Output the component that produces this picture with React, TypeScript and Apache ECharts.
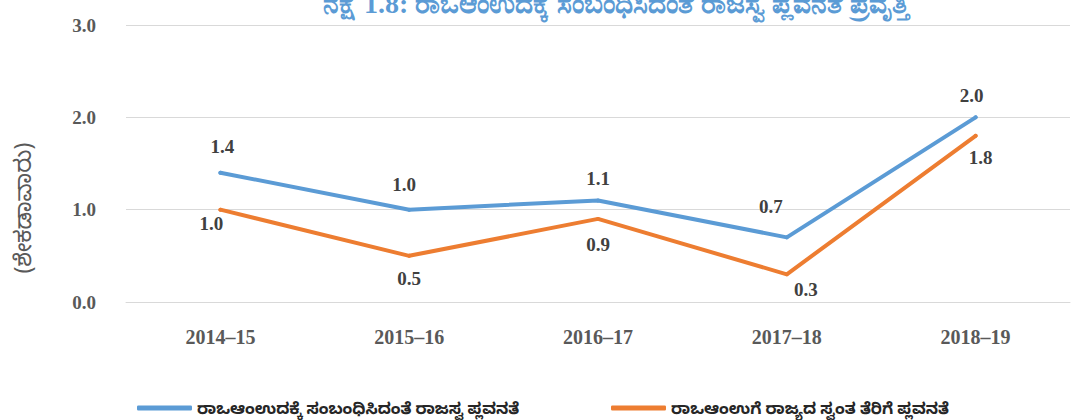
import React, { useEffect, useRef } from "react";
import * as echarts from "echarts";

const categories = ["2014–15", "2015–16", "2016–17", "2017–18", "2018–19"];
const revenueBuoyancy = [1.4, 1.0, 1.1, 0.7, 2.0];
const ownTaxBuoyancy = [1.0, 0.5, 0.9, 0.3, 1.8];
const seriesNames = [
  "ರಾಒಆಂಉದಕ್ಕೆ ಸಂಬಂಧಿಸಿದಂತೆ ರಾಜಸ್ವ ಪ್ಲವನತೆ",
  "ರಾಒಆಂಉಗೆ ರಾಜ್ಯದ ಸ್ವಂತ ತೆರಿಗೆ ಪ್ಲವನತೆ",
];
const titleText = "ನಕ್ಷೆ 1.8: ರಾಒಆಂಉದಕ್ಕೆ ಸಂಬಂಧಿಸಿದಂತೆ ರಾಜಸ್ವ ಪ್ಲವನತೆ ಪ್ರವೃತ್ತಿ";
const yAxisName = "(ಶೇಕಡಾವಾರು)";

// label nudges (dx, dy) in pixels, mimicking the reference's placement
const revenueLabelOffsets = [[2, -5], [-5, -4], [0, 0], [-16, -9], [-4, 0]];
const ownTaxLabelOffsets = [[-9, -8], [0, 1], [0, 4], [19, -6], [5, 0]];

const SERIF = "'Times New Roman', 'Liberation Serif', 'DejaVu Serif', serif";
const SANS = "'Noto Sans', 'Noto Sans Kannada', sans-serif";

export default function App() {
  const ref = useRef<HTMLDivElement>(null);
  useEffect(() => {
    if (!ref.current) return;
    const chart = echarts.init(ref.current, null, { renderer: "svg" });
    const labelStyle = {
      show: true,
      fontFamily: SERIF,
      fontWeight: "bold" as const,
      fontSize: 19,
      color: "#404040",
      distance: 10,
      formatter: (p: any) => Number(p.value).toFixed(1),
    };
    const withOffsets = (vals: number[], offs: number[][]) =>
      vals.map((v, i) => ({ value: v, label: { offset: offs[i] } }));
    chart.setOption({
      animation: false,
      backgroundColor: "#ffffff",
      title: {
        text: titleText,
        left: 318,
        top: -16,
        textStyle: {
          color: "#5B9BD5",
          fontSize: 28,
          fontWeight: "bold",
          fontFamily: SERIF,
        },
      },
      legend: [
        {
          data: [seriesNames[0]],
          left: 132,
          top: 395,
          icon: "roundRect",
          itemWidth: 55,
          itemHeight: 5,
          textStyle: { fontSize: 16, fontWeight: "bold", color: "#262626", fontFamily: SANS },
        },
        {
          data: [seriesNames[1]],
          left: 606,
          top: 395,
          icon: "roundRect",
          itemWidth: 55,
          itemHeight: 5,
          textStyle: { fontSize: 16, fontWeight: "bold", color: "#262626", fontFamily: SANS },
        },
      ],
      graphic: [
        {
          type: "text",
          x: 22,
          y: 208,
          rotation: Math.PI / 2,
          style: {
            text: yAxisName,
            fontSize: 23,
            fill: "#595959",
            fontFamily: SANS,
            align: "center",
            verticalAlign: "middle",
          },
        },
      ],
      grid: { left: 126, right: 8, top: 25, bottom: 118 },
      xAxis: {
        type: "category",
        data: categories,
        boundaryGap: true,
        axisLine: { lineStyle: { color: "#D9D9D9", width: 1 } },
        axisTick: { show: false },
        axisLabel: {
          margin: 25,
          fontFamily: SERIF,
          fontWeight: "bold",
          fontSize: 20,
          color: "#595959",
        },
      },
      yAxis: {
        type: "value",
        min: 0,
        max: 3,
        interval: 1,
        axisLine: { show: false },
        axisTick: { show: false },
        splitLine: { lineStyle: { color: "#D9D9D9", width: 1 } },
        axisLabel: {
          margin: 30,
          fontFamily: SERIF,
          fontWeight: "bold",
          fontSize: 19,
          color: "#595959",
          formatter: (v: number) => v.toFixed(1),
        },
      },
      series: [
        {
          name: seriesNames[0],
          type: "line",
          data: withOffsets(revenueBuoyancy, revenueLabelOffsets),
          symbol: "circle",
          symbolSize: 4,
          color: "#5B9BD5",
          lineStyle: { width: 4, cap: "round", join: "round" },
          label: { ...labelStyle, position: "top" },
        },
        {
          name: seriesNames[1],
          type: "line",
          data: withOffsets(ownTaxBuoyancy, ownTaxLabelOffsets),
          symbol: "circle",
          symbolSize: 4,
          color: "#ED7D31",
          lineStyle: { width: 4, cap: "round", join: "round" },
          label: { ...labelStyle, position: "bottom" },
        },
      ],
    });
    return () => chart.dispose();
  }, []);
  return (
    <div
      ref={ref}
      style={{ position: "fixed", left: 0, top: 0, width: 1078, height: 420 }}
    />
  );
}
